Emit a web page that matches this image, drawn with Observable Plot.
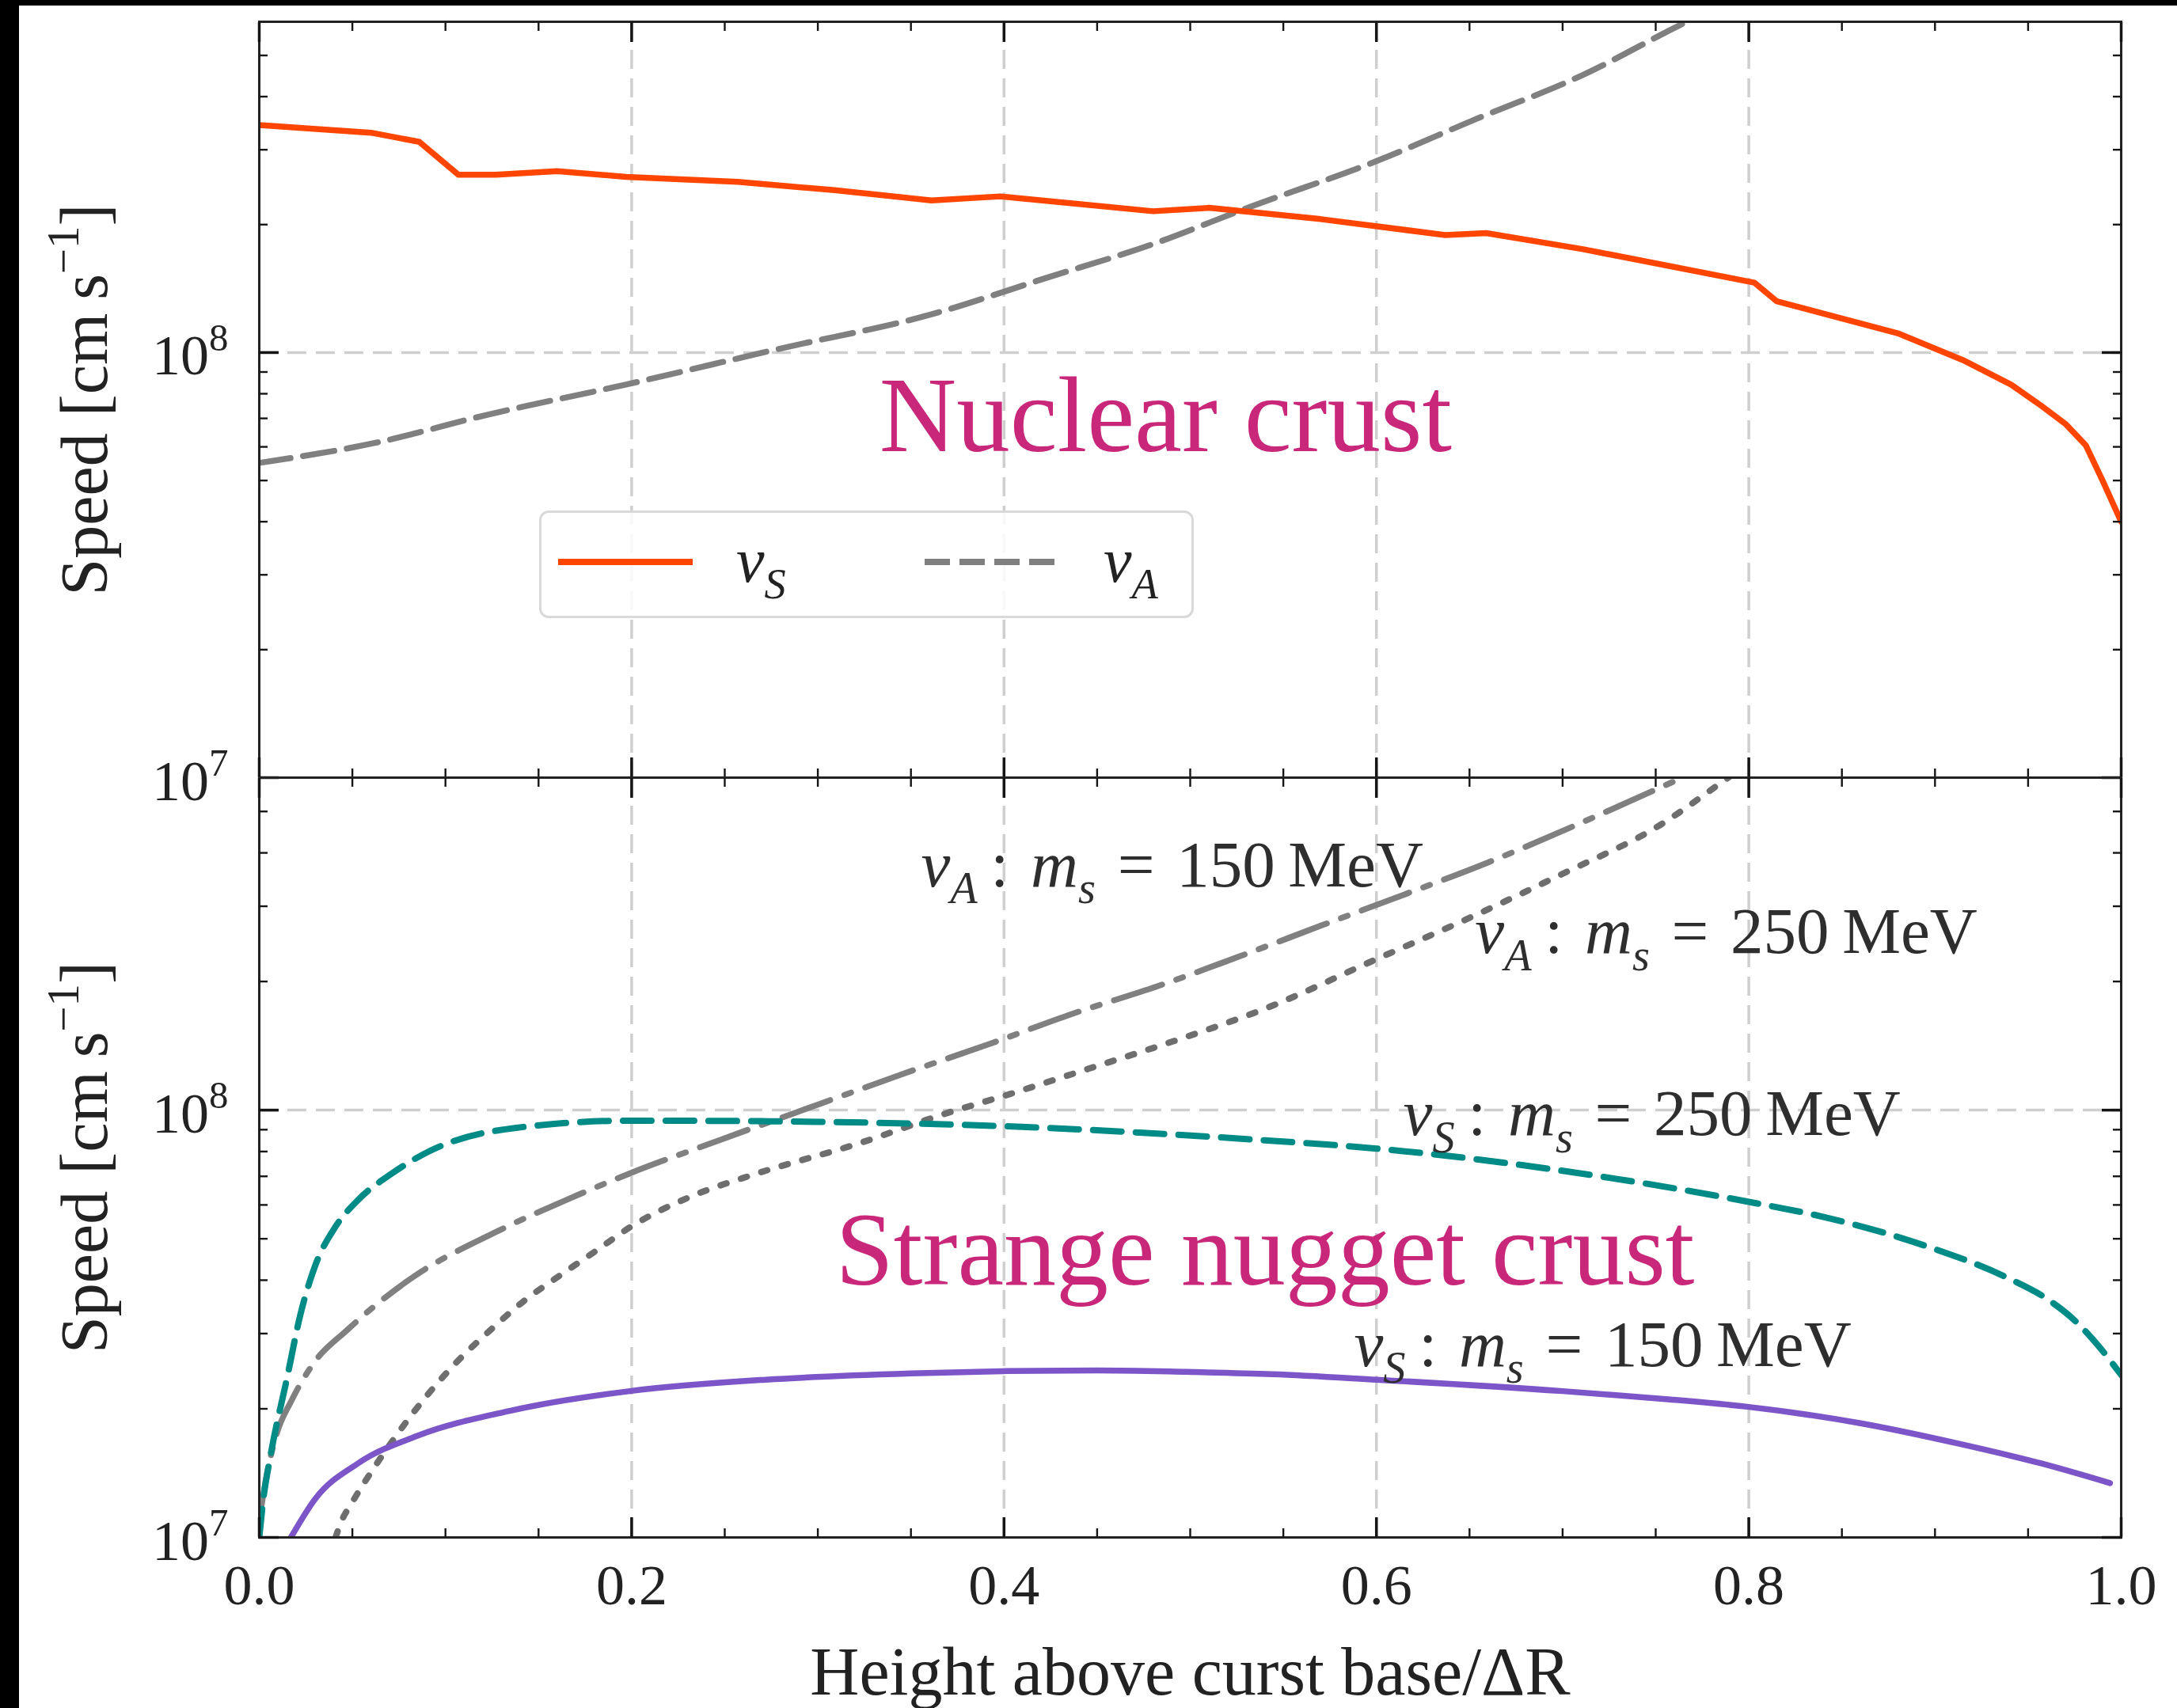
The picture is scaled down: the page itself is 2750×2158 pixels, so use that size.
<!DOCTYPE html>
<html>
<head>
<meta charset="utf-8">
<script src="https://cdn.jsdelivr.net/npm/d3@7"></script>
<script src="https://cdn.jsdelivr.net/npm/@observablehq/plot@0.6"></script>
<style>
  html, body { margin: 0; padding: 0; background: #fff; }
  #page { position: relative; width: 2750px; height: 2158px; background: #fff; overflow: hidden; }
  #barL { position: absolute; left: 0; top: 0; width: 24px; height: 2158px; background: #000; z-index: 5; }
  #barT { position: absolute; left: 0; top: 0; width: 2750px; height: 7px; background: #000; z-index: 5; }
  .panel { position: absolute; left: 0; }
  #legend { position: absolute; left: 681px; top: 645px; width: 821px; height: 130px;
            border: 3px solid #d9d9d9; border-radius: 12px; background: rgba(255,255,255,0.85); z-index: 3; }
</style>
</head>
<body>
<div id="page">
  <div id="upper" class="panel" style="top:0px;z-index:1"></div>
  <div id="lower" class="panel" style="top:982px;z-index:2"></div>
  <div id="legend"></div>
  <div id="barL"></div>
  <div id="barT"></div>
</div>
<script>
const FONT = "'Liberation Serif', 'Times New Roman', serif";

// ---------------- data ----------------
// Upper panel: nuclear crust
const nucX  = [0, 0.06, 0.086, 0.107, 0.127, 0.16, 0.197, 0.257, 0.309, 0.361, 0.398, 0.48, 0.51, 0.57, 0.637, 0.659, 0.711, 0.803, 0.815, 0.88, 0.915, 0.941, 0.957, 0.97, 0.981, 0.99, 1.0];
const nucVs = [3.43e8, 3.29e8, 3.13e8, 2.62e8, 2.62e8, 2.67e8, 2.59e8, 2.52e8, 2.41e8, 2.28e8, 2.33e8, 2.15e8, 2.19e8, 2.06e8, 1.89e8, 1.91e8, 1.75e8, 1.46e8, 1.32e8, 1.11e8, 9.6e7, 8.4e7, 7.5e7, 6.8e7, 6.05e7, 5.0e7, 4.0e7];
const nucVaX = [0, 0.063, 0.122, 0.197, 0.279, 0.361, 0.421, 0.48, 0.532, 0.6, 0.652, 0.711, 0.764, 0.78];
const nucVa  = [5.5e7, 6.14e7, 7.13e7, 8.41e7, 1.02e8, 1.23e8, 1.49e8, 1.8e8, 2.2e8, 2.82e8, 3.52e8, 4.5e8, 5.92e8, 6.4e8];

// Lower panel: strange nugget crust
const sn250X  = [0, 0.002, 0.006, 0.015, 0.022, 0.03, 0.041, 0.053, 0.071, 0.092, 0.138, 0.2, 0.27, 0.4, 0.54, 0.6, 0.72, 0.8, 0.842, 0.895, 0.939, 0.96, 0.975, 0.988, 1.0];
const sn250Vs = [1.0e7, 1.21e7, 1.55e7, 2.37e7, 3.31e7, 4.32e7, 5.34e7, 6.16e7, 7.1e7, 8.04e7, 9.09e7, 9.45e7, 9.42e7, 9.17e7, 8.5e7, 8.13e7, 7.0e7, 6.1e7, 5.6e7, 4.81e7, 4.05e7, 3.62e7, 3.22e7, 2.8e7, 2.4e7];
const sn150X  = [0.017, 0.03, 0.053, 0.085, 0.135, 0.199, 0.272, 0.35, 0.399, 0.45, 0.498, 0.544, 0.6, 0.7, 0.754, 0.8, 0.86, 0.912, 0.957, 0.994];
const sn150Vs = [1.0e7, 1.23e7, 1.49e7, 1.73e7, 1.98e7, 2.2e7, 2.34e7, 2.42e7, 2.45e7, 2.46e7, 2.44e7, 2.41e7, 2.34e7, 2.2e7, 2.11e7, 2.02e7, 1.85e7, 1.66e7, 1.49e7, 1.34e7];
const snVa150X = [0, 0.004, 0.0094, 0.0173, 0.0287, 0.0473, 0.0834, 0.1257, 0.1689, 0.1986, 0.247, 0.3026, 0.3467, 0.3925, 0.4366, 0.4825, 0.5265, 0.571, 0.6153, 0.6594, 0.7034, 0.749, 0.775];
const snVa150  = [1.1e7, 1.4e7, 1.75e7, 2.09e7, 2.54e7, 3.06e7, 4.09e7, 5.15e7, 6.27e7, 7.1e7, 8.5e7, 1.04e8, 1.22e8, 1.43e8, 1.68e8, 1.95e8, 2.29e8, 2.71e8, 3.2e8, 3.79e8, 4.57e8, 5.6e8, 6.3e8];
const snVa250X = [0.041, 0.0437, 0.05, 0.0623, 0.0764, 0.0905, 0.1063, 0.1239, 0.1416, 0.161, 0.1804, 0.1997, 0.2315, 0.267, 0.322, 0.368, 0.403, 0.4454, 0.491, 0.542, 0.5994, 0.647, 0.6998, 0.7528, 0.783, 0.8];
const snVa250  = [1.0e7, 1.08e7, 1.21e7, 1.47e7, 1.8e7, 2.16e7, 2.58e7, 3.05e7, 3.56e7, 4.09e7, 4.67e7, 5.34e7, 6.27e7, 7.1e7, 8.36e7, 9.8e7, 1.09e8, 1.25e8, 1.45e8, 1.74e8, 2.25e8, 2.78e8, 3.57e8, 4.66e8, 5.75e8, 6.5e8];

// ticks / axes
const xDomain = [0, 1];
const yDomain = [1e7, 6e8];
const xMajor = [0, 0.2, 0.4, 0.6, 0.8, 1.0];
const xMinor = [0.05, 0.1, 0.15, 0.25, 0.3, 0.35, 0.45, 0.5, 0.55, 0.65, 0.7, 0.75, 0.85, 0.9, 0.95];
const xTickLabels = ["0.0", "0.2", "0.4", "0.6", "0.8", "1.0"];
const yMajor = [1e7, 1e8];
const yMajorLower = [1e8, 1e7];
const yMinor = [2e7, 3e7, 4e7, 5e7, 6e7, 7e7, 8e7, 9e7, 2e8, 3e8, 4e8, 5e8];
const xGrid = [0.2, 0.4, 0.6, 0.8];
const yGrid = [1e8];

// texts
const yTitle = "Speed [cm s^-1]";
const xTitle = "Height above curst base/\u0394R";
const upperNotes = [{x: 0.333, v: 5.85e7, label: "Nuclear crust"}];
const lowerTitle = [{x: 0.3095, v: 3.9e7, label: "Strange nugget crust"}];
const lowerNotes = [
  {x: 0.3554, v: 3.34e8, label: "v_A : m_s = 150 MeV"},
  {x: 0.653,  v: 2.33e8, label: "v_A : m_s = 250 MeV"},
  {x: 0.6144, v: 8.73e7, label: "v_S : m_s = 250 MeV"},
  {x: 0.588,  v: 2.52e7, label: "v_S : m_s = 150 MeV"}
];
const legendItems = [
  {label: "v_S", color: "#ff4500", dash: null},
  {label: "v_A", color: "#808080", dash: "32,12"}
];

// ---------------- helpers ----------------
const rows = (xs, vs) => xs.map((x, i) => ({x, v: vs[i]}));
const fmtPow = d => "10^" + Math.round(Math.log10(d));

const TICK = "#151515";
function tickMarks() {
  const major = {tickFormat: () => "", label: null, stroke: TICK, strokeWidth: 3.5};
  const minor = {tickFormat: () => "", label: null, stroke: TICK, strokeWidth: 2.4};
  return [
    Plot.axisX(xMajor, {...major, anchor: "bottom", tickSize: 25, dy: -25}),
    Plot.axisX(xMinor, {...minor, anchor: "bottom", tickSize: 11, dy: -11}),
    Plot.axisX(xMajor, {...major, anchor: "top", tickSize: 25, dy: 25}),
    Plot.axisX(xMinor, {...minor, anchor: "top", tickSize: 11, dy: 11}),
    Plot.axisY(yMajor, {...major, anchor: "left", tickSize: 25, dx: 25}),
    Plot.axisY(yMinor, {...minor, anchor: "left", tickSize: 11, dx: 11}),
    Plot.axisY(yMajor, {...major, anchor: "right", tickSize: 25, dx: -25}),
    Plot.axisY(yMinor, {...minor, anchor: "right", tickSize: 11, dx: -11})
  ];
}
const gridStyle = {stroke: "#cfcfcf", strokeOpacity: 1, strokeWidth: 3.5, strokeDasharray: "24,12"};

function yTitleMark() {
  return Plot.text([yTitle], {text: d => d, frameAnchor: "left", rotate: -90, dx: -193,
    lineAnchor: "bottom", textAnchor: "middle", fontSize: 84, fill: "#222", fontFamily: FONT});
}

// rich text (sub/superscripts, italics)
const mathLabel = (sub, num) => [
  {t: "v", it: true}, {t: sub, it: true, sub: true}, {t: "\u2009:\u2004"},
  {t: "m", it: true}, {t: "s", it: true, sub: true}, {t: "\u2004=\u2004" + num + "\u2009MeV"}
];
const RICH = {
  "10^7": [{t: "10"}, {t: "7", sup: true}],
  "10^8": [{t: "10"}, {t: "8", sup: true}],
  "Speed [cm s^-1]": [{t: "Speed [cm\u2009s"}, {t: "\u22121", sup: true}, {t: "]"}],
  "v_A : m_s = 150 MeV": mathLabel("A", "150"),
  "v_A : m_s = 250 MeV": mathLabel("A", "250"),
  "v_S : m_s = 250 MeV": mathLabel("S", "250"),
  "v_S : m_s = 150 MeV": mathLabel("S", "150"),
  "v_S": [{t: "v", it: true}, {t: "S", it: true, sub: true}],
  "v_A": [{t: "v", it: true}, {t: "A", it: true, sub: true}]
};
const NS = "http://www.w3.org/2000/svg";
function buildRich(t, parts, fs) {
  t.textContent = "";
  let shift = 0;
  for (const p of parts) {
    const ts = document.createElementNS(NS, "tspan");
    const target = p.sub ? 0.26 * fs : p.sup ? -0.42 * fs : 0;
    const dy = target - shift;
    if (dy) ts.setAttribute("dy", dy.toFixed(2));
    shift = target;
    if (p.sub || p.sup) ts.setAttribute("font-size", (0.68 * fs).toFixed(1));
    if (p.it) ts.setAttribute("font-style", "italic");
    ts.textContent = p.t;
    t.appendChild(ts);
  }
}
function enrich(svg) {
  svg.querySelectorAll("text").forEach(t => {
    const s = t.textContent;
    if (RICH[s]) {
      const holder = t.closest("[font-size]");
      const fs = holder ? parseFloat(holder.getAttribute("font-size")) : 72;
      buildRich(t, RICH[s], fs);
    }
  });
}

const common = {
  width: 2750,
  marginLeft: 327,
  marginRight: 71,
  x: {domain: xDomain, label: null},
  y: {type: "log", domain: yDomain, label: null},
  style: {fontFamily: FONT, background: "transparent", overflow: "visible", color: "#222"}
};

// ---------------- upper panel ----------------
const upper = Plot.plot({
  ...common,
  height: 982,
  marginTop: 27,
  marginBottom: 0,
  marks: [
    Plot.gridX(xGrid, gridStyle),
    Plot.gridY(yGrid, gridStyle),
    Plot.line(rows(nucVaX, nucVa), {x: "x", y: "v", stroke: "#808080", strokeWidth: 7.5, strokeDasharray: "40,16", curve: "monotone-x", clip: true}),
    Plot.line(rows(nucX, nucVs), {x: "x", y: "v", stroke: "#ff4500", strokeWidth: 7.5, curve: "linear", strokeLinejoin: "round", clip: true}),
    Plot.frame({stroke: "#222", strokeWidth: 3}),
    ...tickMarks(),
    Plot.axisY(yMajor, {anchor: "left", tickSize: 0, tickPadding: 39, tickFormat: fmtPow, fontSize: 72, fontFamily: FONT, fill: "#222", label: null, dy: 5}),
    yTitleMark(),
    Plot.text(upperNotes, {x: "x", y: "v", text: "label", textAnchor: "start", lineAnchor: "bottom", fontSize: 135, fill: "#c9287a", fontFamily: FONT})
  ]
});
enrich(upper);
document.getElementById("upper").appendChild(upper);

// ---------------- lower panel ----------------
const lower = Plot.plot({
  ...common,
  height: 1176,
  marginTop: 0,
  marginBottom: 216,
  marks: [
    Plot.gridX(xGrid, gridStyle),
    Plot.gridY(yGrid, gridStyle),
    Plot.line(rows(snVa250X, snVa250), {x: "x", y: "v", stroke: "#6e6e6e", strokeWidth: 8, strokeDasharray: "8,19", curve: "monotone-x", clip: true}),
    Plot.line(rows(snVa150X, snVa150), {x: "x", y: "v", stroke: "#808080", strokeWidth: 7.5, strokeDasharray: "64,19,9,19", curve: "monotone-x", clip: true}),
    Plot.line(rows(sn250X, sn250Vs), {x: "x", y: "v", stroke: "#008b87", strokeWidth: 8, strokeDasharray: "36,18", curve: "monotone-x", clip: true}),
    Plot.line(rows(sn150X, sn150Vs), {x: "x", y: "v", stroke: "#7c55c8", strokeWidth: 7.5, curve: "monotone-x", clip: true}),
    Plot.frame({stroke: "#222", strokeWidth: 3}),
    ...tickMarks(),
    Plot.axisY(yMajorLower, {anchor: "left", tickSize: 0, tickPadding: 39, tickFormat: fmtPow, fontSize: 72, fontFamily: FONT, fill: "#222", label: null, dy: 5}),
    Plot.axisX(xMajor, {anchor: "bottom", tickSize: 0, tickPadding: 33, tickFormat: (d, i) => xTickLabels[i], fontSize: 72, fontFamily: FONT, fill: "#222", label: null}),
    yTitleMark(),
    Plot.text([xTitle], {text: d => d, frameAnchor: "bottom", dy: 198, lineAnchor: "bottom", textAnchor: "middle", fontSize: 86, fill: "#222", fontFamily: FONT}),
    Plot.text(lowerNotes, {x: "x", y: "v", text: "label", textAnchor: "start", lineAnchor: "bottom", fontSize: 83, fill: "#2e2e2e", fontFamily: FONT}),
    Plot.text(lowerTitle, {x: "x", y: "v", text: "label", textAnchor: "start", lineAnchor: "bottom", fontSize: 132, fill: "#c9287a", fontFamily: FONT})
  ]
});
enrich(lower);
document.getElementById("lower").appendChild(lower);

// ---------------- legend (inside upper axes) ----------------
(function buildLegend() {
  const box = document.getElementById("legend");
  const svg = document.createElementNS(NS, "svg");
  svg.setAttribute("width", 821);
  svg.setAttribute("height", 130);
  svg.style.position = "absolute";
  svg.style.left = "0px";
  svg.style.top = "0px";
  svg.style.overflow = "visible";
  const slots = [{lx: 21, tx: 246}, {lx: 484, tx: 710}];
  legendItems.forEach((it, i) => {
    const ln = document.createElementNS(NS, "line");
    ln.setAttribute("x1", slots[i].lx);
    ln.setAttribute("x2", slots[i].lx + 170);
    ln.setAttribute("y1", 62);
    ln.setAttribute("y2", 62);
    ln.setAttribute("stroke", it.color);
    ln.setAttribute("stroke-width", 8);
    if (it.dash) ln.setAttribute("stroke-dasharray", it.dash);
    svg.appendChild(ln);
    const g = document.createElementNS(NS, "g");
    g.setAttribute("font-size", 80);
    g.setAttribute("font-family", FONT);
    g.setAttribute("fill", "#222");
    const tx = document.createElementNS(NS, "text");
    tx.setAttribute("x", slots[i].tx);
    tx.setAttribute("y", 87);
    tx.textContent = it.label;
    g.appendChild(tx);
    svg.appendChild(g);
  });
  box.appendChild(svg);
  enrich(svg);
})();
</script>
</body>
</html>
